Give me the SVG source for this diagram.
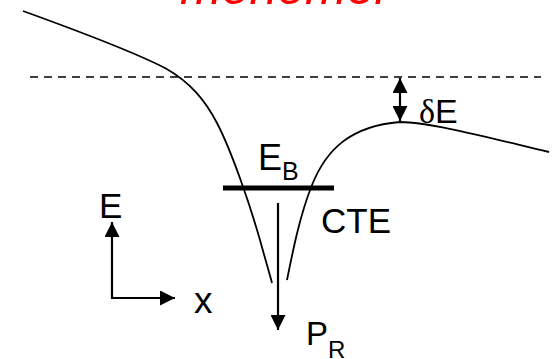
<svg xmlns="http://www.w3.org/2000/svg" width="553" height="359" viewBox="0 0 553 359">
<style>
.t{font-family:"Liberation Sans",Arial,sans-serif;fill:#000}
.curve{fill:none;stroke:#000;stroke-width:1.8}
.ln{fill:none;stroke:#000;stroke-width:2.2}
</style>
<defs>
<marker id="ah" viewBox="0 0 15 15" refX="15" refY="7.5" markerWidth="15" markerHeight="15" markerUnits="userSpaceOnUse" orient="auto-start-reverse">
<path d="M0,0 L15,7.5 L0,15 Z" fill="#000"/>
</marker>
</defs>
<rect width="553" height="359" fill="#fff"/>
<g id="title">
<text class="t" x="180" y="4" font-size="50" font-style="italic" style="fill:#f00">monomer</text>
</g>
<g id="potential">
<path class="curve" d="M23,11 C70,28 130,50 165,68 C190,82 205,100 217,123 C232,152 250,205 260,240 C266,262 270,275 272,283"/>
<path class="curve" d="M287,280 C293,250 300,215 312,185 C326,150 350,126 400,122 C430,122 490,138 549,152"/>
</g>
<g id="level">
<line x1="30" y1="77" x2="541" y2="77" stroke="#000" stroke-width="1.6" stroke-dasharray="8,6"/>
</g>
<g id="EB">
<line x1="223" y1="188" x2="334" y2="188" stroke="#000" stroke-width="5"/>
<text class="t" x="258" y="170" font-size="36">E<tspan font-size="25" dy="10">B</tspan></text>
</g>
<g id="CTE"><text class="t" x="321" y="233" font-size="35">CTE</text></g>
<g id="PR"><text class="t" x="306" y="345" font-size="33">P<tspan font-size="24" dy="13">R</tspan></text></g>
<g id="dE"><text class="t" x="419" y="123" font-size="34"><tspan font-family="Liberation Serif,serif">δ</tspan>E</text></g>
<g id="axes">
<text class="t" x="99" y="218" font-size="35">E</text>
<text class="t" x="194" y="313" font-size="37">x</text>
</g>
<g id="connectors">
<line class="ln" x1="400" y1="78" x2="400" y2="121" marker-start="url(#ah)" marker-end="url(#ah)"/>
<line class="ln" x1="278" y1="203" x2="278" y2="330" marker-end="url(#ah)"/>
<polyline class="ln" points="112,222 112,298 175,298" stroke-width="2.5" marker-start="url(#ah)" marker-end="url(#ah)"/>
</g>
</svg>
